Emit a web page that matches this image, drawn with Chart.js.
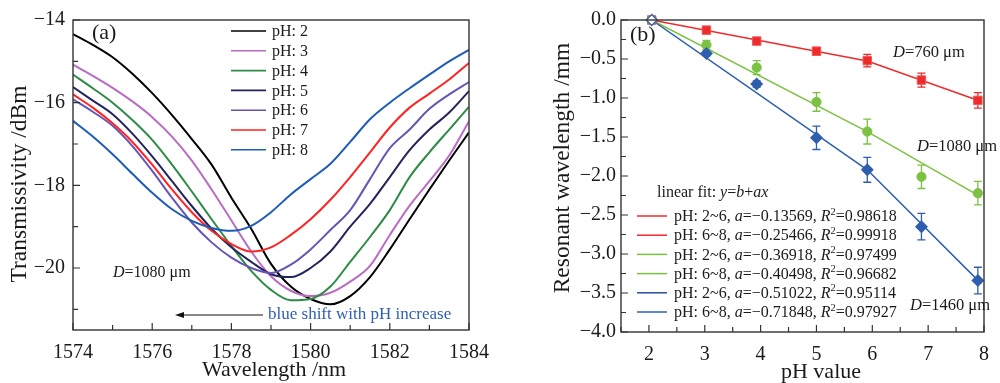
<!DOCTYPE html>
<html>
<head>
<meta charset="utf-8">
<script src="https://cdn.jsdelivr.net/npm/chart.js"></script>
<style>
  body { margin: 0; background: #fff; }
  canvas { position: absolute; top: 0; }
  #chartA { left: 0; }
  #chartB { left: 500px; }
</style>
</head>
<body>
<canvas id="chartA" width="500" height="383"></canvas>
<canvas id="chartB" width="500" height="383"></canvas>
<script>
// ---------- panel (a): transmission spectra ----------
const wavelengths = [1574, 1574.5, 1575, 1575.5, 1576, 1576.5, 1577, 1577.5, 1578, 1578.5, 1579,
                     1579.5, 1580, 1580.5, 1581, 1581.5, 1582, 1582.5, 1583, 1583.5, 1584];
const spec_pH2 = [-14.34, -14.6, -14.9, -15.3, -15.77, -16.3, -16.88, -17.5, -18.3, -19.05, -19.9,
                  -20.45, -20.75, -20.88, -20.68, -20.22, -19.55, -18.82, -18.1, -17.4, -16.72];
const spec_pH3 = [-15.08, -15.35, -15.64, -15.97, -16.35, -16.82, -17.4, -18.1, -18.85, -19.6, -20.2,
                  -20.55, -20.68, -20.6, -20.33, -19.95, -19.2, -18.49, -17.9, -17.28, -16.45];
const spec_pH4 = [-15.32, -15.65, -16.0, -16.42, -16.9, -17.5, -18.15, -18.82, -19.47, -20.07, -20.53,
                  -20.78, -20.75, -20.45, -19.85, -19.25, -18.6, -17.8, -17.2, -16.65, -16.1];
const spec_pH5 = [-15.62, -15.95, -16.28, -16.75, -17.3, -17.9, -18.5, -19.05, -19.5, -19.85, -20.15,
                  -20.22, -20.0, -19.6, -19.0, -18.45, -17.8, -17.15, -16.65, -16.24, -15.72];
const spec_pH6 = [-15.92, -16.22, -16.56, -17.05, -17.65, -18.3, -18.9, -19.38, -19.75, -20.0, -20.12,
                  -19.92, -19.55, -19.08, -18.6, -17.85, -17.1, -16.65, -16.15, -15.8, -15.5];
const spec_pH7 = [-15.8, -16.12, -16.5, -16.95, -17.5, -18.1, -18.65, -19.1, -19.42, -19.6, -19.5,
                  -19.2, -18.82, -18.35, -17.8, -17.2, -16.6, -16.12, -15.78, -15.44, -15.04];
const spec_pH8 = [-16.44, -16.82, -17.25, -17.72, -18.18, -18.58, -18.86, -19.03, -19.1, -18.98, -18.65,
                  -18.22, -17.85, -17.48, -16.95, -16.4, -16.0, -15.65, -15.32, -15.0, -14.72];
const specLabels = ['pH: 2', 'pH: 3', 'pH: 4', 'pH: 5', 'pH: 6', 'pH: 7', 'pH: 8'];
const specColors = ['#000000', '#b86cc4', '#2e8b46', '#23235e', '#6655b5', '#ff2323', '#1d5cb8'];
const specSeries = [spec_pH2, spec_pH3, spec_pH4, spec_pH5, spec_pH6, spec_pH7, spec_pH8];

// ---------- panel (b): resonant wavelength shift vs pH ----------
const phPositions = [2.05, 3.03, 3.93, 5.0, 5.91, 6.88, 7.89];
const shift760  = [0, -0.13, -0.27, -0.40, -0.52, -0.77, -1.03];
const err760    = [0, 0.03, 0.04, 0.05, 0.08, 0.09, 0.1];
const shift1080 = [0, -0.32, -0.61, -1.05, -1.43, -2.01, -2.22];
const err1080   = [0, 0.06, 0.09, 0.12, 0.16, 0.15, 0.15];
const shift1460 = [0, -0.43, -0.82, -1.51, -1.92, -2.65, -3.34];
const err1460   = [0, 0.03, 0.04, 0.15, 0.16, 0.17, 0.17];
const fitX      = [2.05, 5.91, 7.95];
const fit760    = [0, -0.525, -1.045];
const fit1080   = [0, -1.43, -2.27];
const fit1460   = [0, -1.92, -3.38];
const fitRanges = ['2~6', '6~8', '2~6', '6~8', '2~6', '6~8'];
const fitSlopes = ['\u22120.13569', '\u22120.25466', '\u22120.36918', '\u22120.40498', '\u22120.51022', '\u22120.71848'];
const fitR2     = ['0.98618', '0.99918', '0.97499', '0.96682', '0.95114', '0.97927'];
const fitColors = ['#ee2b2b', '#ee2b2b', '#7cc242', '#7cc242', '#24509a', '#2d62b4'];

const RED = '#ee2b2b', GREEN = '#7cc242', BLUE = '#2d5fae';
const SERIF = '"Liberation Serif", serif';
Chart.defaults.font.family = SERIF;
Chart.defaults.color = '#1a1a1a';
const tickFont = { family: SERIF, size: 20 };

const fmt = v => String(v).replace('-', '\u2212');
const pts = (xs, ys) => xs.map((x, i) => ({ x: x, y: ys[i] }));

// draw a line of text made of plain / italic / superscript runs
function drawRuns(ctx, x, y, runs, size) {
  ctx.textBaseline = 'middle';
  ctx.textAlign = 'left';
  runs.forEach(([txt, style]) => {
    let f = size, dy = 0, it = '';
    if (style === 'i') it = 'italic ';
    if (style === 'sup') { f = size * 0.65; dy = -size * 0.32; }
    ctx.font = it + f + 'px ' + SERIF;
    ctx.fillText(txt, x, y + dy);
    x += ctx.measureText(txt).width;
  });
}

// frame + inward ticks
function frameAndTicks(chart, isMajorX, isMajorY, xStep, yStep) {
  const { ctx, chartArea: a, scales: { x, y } } = chart;
  ctx.save();
  ctx.strokeStyle = '#333';
  ctx.lineWidth = 1.4;
  ctx.strokeRect(a.left, a.top, a.right - a.left, a.bottom - a.top);
  ctx.lineWidth = 1.2;
  ctx.beginPath();
  for (let v = Math.ceil(x.min / xStep) * xStep; v <= x.max + 1e-9; v += xStep) {
    const px = x.getPixelForValue(v);
    const len = isMajorX(v) ? 7 : 5;
    ctx.moveTo(px, a.bottom);
    ctx.lineTo(px, a.bottom - len);
  }
  for (let v = Math.ceil(y.min / yStep) * yStep; v <= y.max + 1e-9; v += yStep) {
    const py = y.getPixelForValue(v);
    const len = isMajorY(v) ? 7 : 5;
    ctx.moveTo(a.left, py);
    ctx.lineTo(a.left + len, py);
  }
  ctx.stroke();
  ctx.restore();
}

function axisTitles(ctx, xt, xx, xy, yt, yx, yy) {
  ctx.save();
  ctx.fillStyle = '#1a1a1a';
  ctx.textAlign = 'center';
  ctx.textBaseline = 'middle';
  ctx.font = '22px ' + SERIF;
  ctx.fillText(xt, xx, xy);
  ctx.translate(yx, yy);
  ctx.rotate(-Math.PI / 2);
  ctx.font = '23.5px ' + SERIF;
  ctx.fillText(yt, 0, 0);
  ctx.restore();
}

// ---------- chart (a) ----------
const panelA = {
  id: 'panelA',
  afterDraw(chart) {
    const ctx = chart.ctx;
    frameAndTicks(chart, v => v % 2 === 0, v => v % 2 === 0, 1, 1);
    axisTitles(ctx, 'Wavelength /nm', 274, 370, 'Transmissivity /dBm', 20, 184);
    ctx.save();
    ctx.fillStyle = '#1a1a1a';
    drawRuns(ctx, 92, 33, [['(a)', '']], 22);
    // legend
    specLabels.forEach((lab, i) => {
      const yy = 31 + i * 19.8;
      ctx.strokeStyle = specColors[i];
      ctx.lineWidth = 1.6;
      ctx.beginPath();
      ctx.moveTo(231, yy);
      ctx.lineTo(266, yy);
      ctx.stroke();
      ctx.fillStyle = '#1a1a1a';
      drawRuns(ctx, 272, yy + 1, [[lab, '']], 16);
    });
    drawRuns(ctx, 113, 273, [['D', 'i'], ['=1080 \u03bcm', '']], 16);
    // arrow
    ctx.strokeStyle = '#111';
    ctx.fillStyle = '#111';
    ctx.lineWidth = 1.2;
    ctx.beginPath();
    ctx.moveTo(263, 315);
    ctx.lineTo(180, 315);
    ctx.stroke();
    ctx.beginPath();
    ctx.moveTo(175, 315);
    ctx.lineTo(184, 312);
    ctx.lineTo(184, 318);
    ctx.closePath();
    ctx.fill();
    ctx.fillStyle = '#2f5fb3';
    drawRuns(ctx, 268, 315, [['blue shift with pH increase', '']], 17);
    ctx.restore();
  }
};

new Chart(document.getElementById('chartA'), {
  type: 'line',
  data: {
    datasets: specSeries.map((s, i) => ({
      label: specLabels[i],
      data: pts(wavelengths, s),
      borderColor: specColors[i],
      borderWidth: 2,
      pointRadius: 0,
      cubicInterpolationMode: 'monotone',
      order: 7 - i
    }))
  },
  options: {
    responsive: false,
    animation: false,
    layout: { padding: { top: 17, right: 30, left: 0, bottom: 0 } },
    plugins: { legend: { display: false }, tooltip: { enabled: false } },
    scales: {
      x: {
        type: 'linear', min: 1574, max: 1584,
        afterFit: s => { s.height = 53; },
        grid: { display: false, drawTicks: false },
        border: { display: false },
        ticks: { stepSize: 1, autoSkip: false, maxRotation: 0, padding: 11, font: tickFont,
                 callback: v => (v % 2 === 0 ? String(v) : '') }
      },
      y: {
        type: 'linear', min: -21.5, max: -14,
        afterFit: s => { s.width = 73; },
        grid: { display: false, drawTicks: false },
        border: { display: false },
        ticks: { stepSize: 1, autoSkip: false, padding: 8, font: tickFont,
                 callback: v => (v % 2 === 0 ? fmt(v) : '') }
      }
    }
  },
  plugins: [panelA]
});

// ---------- chart (b) ----------
const errorSets = [
  [shift760, err760, RED],
  [shift1080, err1080, GREEN],
  [shift1460, err1460, BLUE]
];

const panelB = {
  id: 'panelB',
  beforeDatasetsDraw(chart) {
    const { ctx, scales: { x, y } } = chart;
    ctx.save();
    ctx.lineWidth = 1.3;
    errorSets.forEach(([vals, errs, col]) => {
      ctx.strokeStyle = col;
      ctx.beginPath();
      vals.forEach((v, i) => {
        if (!errs[i]) return;
        const px = x.getPixelForValue(phPositions[i]);
        const top = y.getPixelForValue(v + errs[i]);
        const bot = y.getPixelForValue(v - errs[i]);
        ctx.moveTo(px, top); ctx.lineTo(px, bot);
        ctx.moveTo(px - 4, top); ctx.lineTo(px + 4, top);
        ctx.moveTo(px - 4, bot); ctx.lineTo(px + 4, bot);
      });
      ctx.stroke();
    });
    ctx.restore();
  },
  afterDraw(chart) {
    const ctx = chart.ctx;
    const half = v => Math.abs(v * 2 - Math.round(v * 2)) < 1e-6;
    frameAndTicks(chart, v => Math.abs(v - Math.round(v)) < 1e-6, half, 0.5, 0.25);
    axisTitles(ctx, 'pH value', 321, 372, 'Resonant wavelength /mm', 63, 168);
    ctx.save();
    ctx.fillStyle = '#1a1a1a';
    drawRuns(ctx, 130, 35, [['(b)', '']], 22);
    drawRuns(ctx, 393, 53, [['D', 'i'], ['=760 \u03bcm', '']], 16.5);
    drawRuns(ctx, 417, 147, [['D', 'i'], ['=1080 \u03bcm', '']], 16.5);
    drawRuns(ctx, 410, 306, [['D', 'i'], ['=1460 \u03bcm', '']], 16.5);
    drawRuns(ctx, 157, 193, [['linear fit: ', ''], ['y', 'i'], ['=', ''], ['b', 'i'], ['+', ''], ['ax', 'i']], 16);
    fitRanges.forEach((r, i) => {
      const yy = 216 + i * 19.2;
      ctx.strokeStyle = fitColors[i];
      ctx.lineWidth = 1.5;
      ctx.beginPath();
      ctx.moveTo(137, yy);
      ctx.lineTo(167, yy);
      ctx.stroke();
      ctx.fillStyle = '#1a1a1a';
      drawRuns(ctx, 174, yy + 1, [
        ['pH: ' + r + ', ', ''], ['a', 'i'], ['=' + fitSlopes[i] + ', ', ''],
        ['R', 'i'], ['2', 'sup'], ['=' + fitR2[i], '']
      ], 16);
    });
    ctx.restore();
  }
};

new Chart(document.getElementById('chartB'), {
  type: 'scatter',
  data: {
    datasets: [
      { type: 'line', data: pts(fitX, fit760), borderColor: RED, borderWidth: 1.5, pointRadius: 0, order: 6 },
      { type: 'line', data: pts(fitX, fit1080), borderColor: GREEN, borderWidth: 1.5, pointRadius: 0, order: 5 },
      { type: 'line', data: pts(fitX, fit1460), borderColor: BLUE, borderWidth: 1.5, pointRadius: 0, order: 4 },
      { data: pts(phPositions, shift760), pointStyle: 'rect', pointRadius: 6, borderWidth: 1,
        backgroundColor: RED, borderColor: '#f05a5a', order: 3, clip: false },
      { data: pts(phPositions, shift1080), pointStyle: 'circle', pointRadius: 4.6, borderWidth: 1,
        backgroundColor: GREEN, borderColor: GREEN, order: 2, clip: false },
      { data: pts(phPositions, shift1460), pointStyle: 'rectRot', pointRadius: 5.5, borderWidth: 1.4,
        backgroundColor: shift1460.map((v, i) => (i === 0 ? '#ffffff' : BLUE)), borderColor: BLUE,
        order: 1, clip: false }
    ]
  },
  options: {
    responsive: false,
    animation: false,
    layout: { padding: { top: 20, right: 4, left: 0, bottom: 0 } },
    plugins: { legend: { display: false }, tooltip: { enabled: false } },
    scales: {
      x: {
        type: 'linear', min: 1.5, max: 8,
        afterFit: s => { s.height = 51; },
        grid: { display: false, drawTicks: false },
        border: { display: false },
        ticks: { stepSize: 0.5, autoSkip: false, maxRotation: 0, padding: 11, font: tickFont,
                 callback: v => (Number.isInteger(v) ? String(v) : '') }
      },
      y: {
        type: 'linear', min: -4, max: 0,
        afterFit: s => { s.width = 121; },
        grid: { display: false, drawTicks: false },
        border: { display: false },
        ticks: { stepSize: 0.25, autoSkip: false, padding: 5, font: tickFont,
                 callback: v => (Math.abs(v * 2 - Math.round(v * 2)) < 1e-6 ? fmt(v.toFixed(1)) : '') }
      }
    }
  },
  plugins: [panelB]
});
</script>
</body>
</html>
